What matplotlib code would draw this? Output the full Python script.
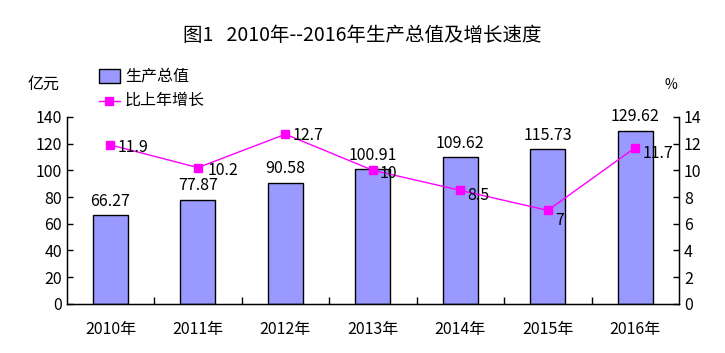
import matplotlib
matplotlib.use('Agg')
import matplotlib.pyplot as plt
import numpy as np

plt.rcParams['font.family'] = ['Noto Sans CJK SC', 'DejaVu Sans']

years = ['2010年', '2011年', '2012年', '2013年', '2014年', '2015年', '2016年']
gdp = [66.27, 77.87, 90.58, 100.91, 109.62, 115.73, 129.62]
growth = [11.9, 10.2, 12.7, 10, 8.5, 7, 11.7]
growth_labels = ['11.9', '10.2', '12.7', '10', '8.5', '7', '11.7']

# label offsets (points) for the growth line labels
line_offsets = [(5, -2), (7, -2), (5, -1), (5, -2), (5, -4), (5, -7), (5, -4)]

fig = plt.figure(figsize=(7.25, 3.53), dpi=100)
ax = fig.add_axes([0.092, 0.139, 0.8446, 0.530])
ax2 = ax.twinx()

x = np.arange(len(years))
ax.bar(x, gdp, width=0.4, color='#9999FF', edgecolor='black', linewidth=1, zorder=2)
for xi, v in zip(x, gdp):
    ax.annotate(f'{v:.2f}', (xi, v), xytext=(0, 4), textcoords='offset points',
                ha='center', va='bottom', fontsize=11.5)

ax.set_xlim(-0.5, len(years) - 0.5)
ax.set_ylim(0, 140)
ax.set_yticks(range(0, 141, 20))
ax.set_xticks(x)
ax.set_xticklabels(years, fontsize=11.5)
ax.set_xticks(np.arange(0.5, len(years) - 1, 1), minor=True)
ax.tick_params(axis='x', which='major', length=0, pad=12)
ax.tick_params(axis='x', which='minor', direction='in', length=5, width=1)
ax.tick_params(axis='y', direction='in', length=4, width=1, labelsize=11.5)
ax.spines['top'].set_visible(False)
for s in ['left', 'bottom']:
    ax.spines[s].set_linewidth(1)

ax2.plot(x, growth, color='#FF00FF', linewidth=1, marker='s', markersize=6, zorder=3)
for xi, v, lab, off in zip(x, growth, growth_labels, line_offsets):
    ax2.annotate(lab, (xi, v), xytext=off, textcoords='offset points',
                 ha='left', va='center', fontsize=11.5)
ax2.set_ylim(0, 14)
ax2.set_yticks(range(0, 15, 2))
ax2.tick_params(axis='y', direction='in', length=4, width=1, labelsize=11.5)
ax2.spines['top'].set_visible(False)
ax2.spines['right'].set_linewidth(1)

fig.text(0.5, 0.9, '图1   2010年--2016年生产总值及增长速度', ha='center', va='center', fontsize=14)
fig.text(0.06, 0.76, '亿元', ha='center', va='center', fontsize=11.5)
fig.text(0.925, 0.76, '%', ha='center', va='center', fontsize=10)

# legend
fig.patches.append(plt.Rectangle((0.136, 0.765), 0.03, 0.04, transform=fig.transFigure,
                                 facecolor='#9999FF', edgecolor='black', linewidth=1))
fig.text(0.172, 0.785, '生产总值', ha='left', va='center', fontsize=11.5)
fig.lines.append(plt.Line2D([0.136, 0.166], [0.715, 0.715], transform=fig.transFigure,
                            color='#FF00FF', linewidth=1))
fig.lines.append(plt.Line2D([0.151], [0.715], transform=fig.transFigure,
                            color='#FF00FF', marker='s', markersize=6, linestyle='none'))
fig.text(0.172, 0.715, '比上年增长', ha='left', va='center', fontsize=11.5)

fig.savefig('out.png', dpi=100)
